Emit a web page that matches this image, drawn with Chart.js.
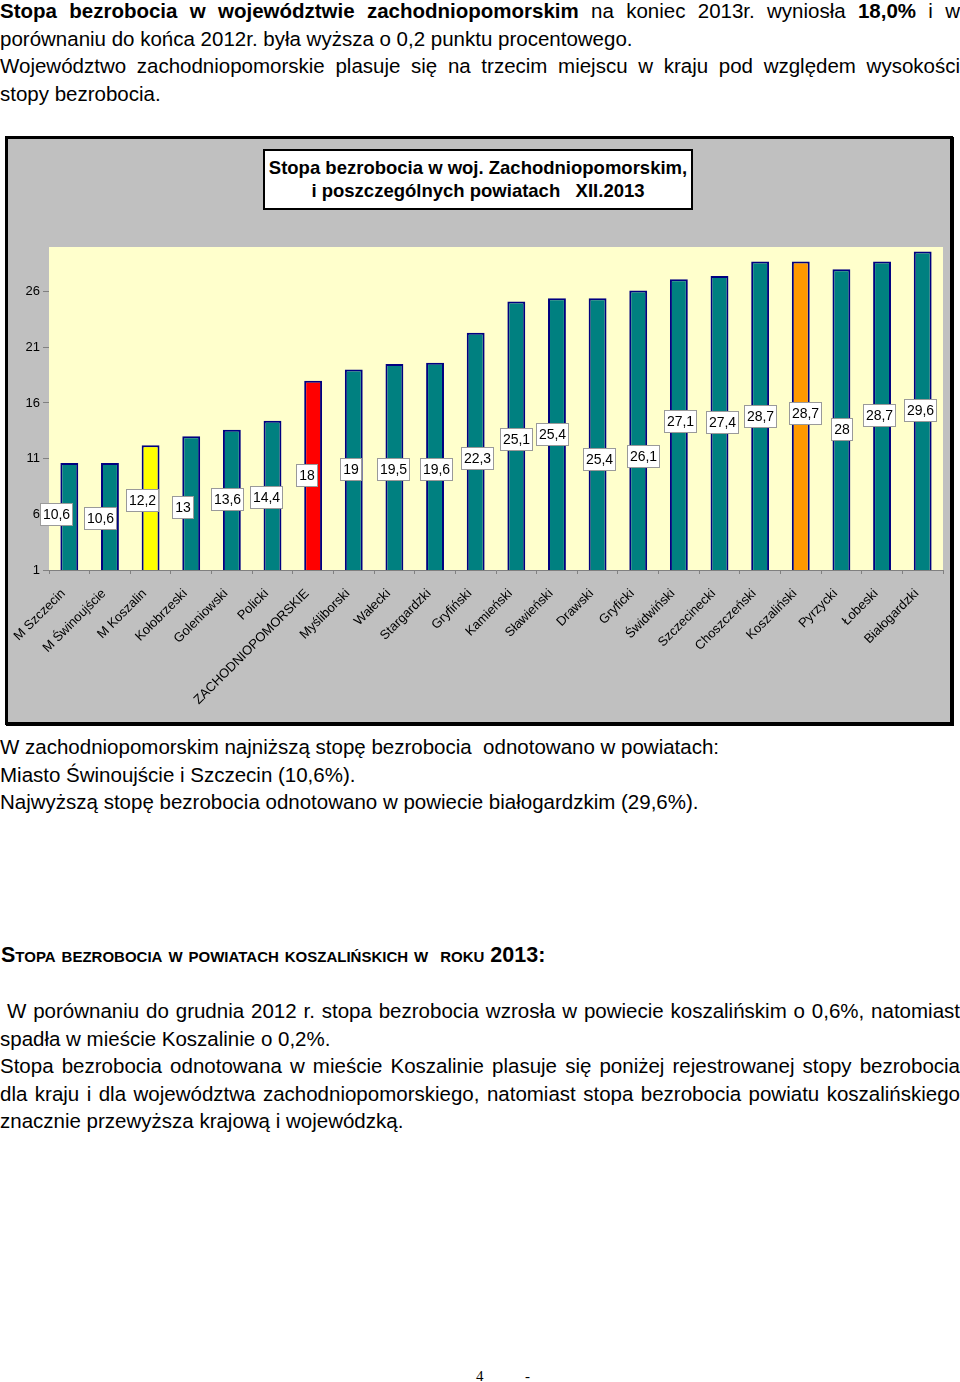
<!DOCTYPE html>
<html lang="pl">
<head>
<meta charset="utf-8">
<title>Stopa bezrobocia XII.2013</title>
<script src="https://cdn.jsdelivr.net/npm/chart.js@4.4.0/dist/chart.umd.min.js"></script>
<style>
  body { margin: 0; width: 960px; height: 1382px; position: relative; background: #fff; color: #000;
         font-family: 'Liberation Sans', Arial, sans-serif; overflow: hidden; }
  .txt { position: absolute; left: 0; width: 960px; font-size: 20.5px; line-height: 27.5px; }
  .txt div { white-space: nowrap; }
  .txt .j { text-align: justify; text-align-last: justify; }
  #frame { position: absolute; left: 5px; top: 136px; width: 942px; height: 583px; border: 3px solid #000;
           background: #c0c0c0; box-shadow: 1px 1px 0 #000; }
  #frame canvas { position: absolute; left: 0; top: 0; }
  #title { position: absolute; left: 255px; top: 10px; width: 430px; height: 61px; box-sizing: border-box;
           border: 2px solid #000; background: #fff; text-align: center; padding-top: 5px;
           font: bold 18.5px 'Liberation Sans', Arial, sans-serif; line-height: 23px; }
  #heading { position: absolute; left: 1px; top: 943px; font: bold 21.5px 'Liberation Sans', Arial, sans-serif;
             font-variant: small-caps; white-space: nowrap; }
  .foot { position: absolute; top: 1368px; font: 15px 'Liberation Serif', 'Times New Roman', serif; }
</style>
</head>
<body>

<div class="txt" style="top:-3px">
  <div class="j"><b>Stopa bezrobocia w województwie zachodniopomorskim</b> na koniec 2013r. wyniosła <b>18,0%</b> i w</div>
  <div>porównaniu do końca 2012r. była wyższa o 0,2 punktu procentowego.</div>
  <div class="j">Województwo zachodniopomorskie plasuje się na trzecim miejscu w kraju pod względem wysokości</div>
  <div>stopy bezrobocia.</div>
</div>

<div id="frame">
  <canvas id="chart" width="942" height="583"></canvas>
  <div id="title">Stopa bezrobocia w woj. Zachodniopomorskim,<br>i poszczególnych powiatach&nbsp;&nbsp; XII.2013</div>
</div>

<div class="txt" style="top:733px">
  <div>W zachodniopomorskim najniższą stopę bezrobocia&nbsp; odnotowano w powiatach:</div>
  <div>Miasto Świnoujście i Szczecin (10,6%).</div>
  <div>Najwyższą stopę bezrobocia odnotowano w powiecie białogardzkim (29,6%).</div>
</div>

<div id="heading">Stopa bezrobocia w powiatach koszalińskich w&nbsp; roku 2013:</div>

<div class="txt" style="top:997px">
  <div class="j" style="padding-left:7px">W porównaniu do grudnia 2012 r. stopa bezrobocia wzrosła w powiecie koszalińskim o 0,6%, natomiast</div>
  <div>spadła w mieście Koszalinie o 0,2%.</div>
  <div class="j">Stopa bezrobocia odnotowana w mieście Koszalinie plasuje się poniżej rejestrowanej stopy bezrobocia</div>
  <div class="j">dla kraju i dla województwa zachodniopomorskiego, natomiast stopa bezrobocia powiatu koszalińskiego</div>
  <div>znacznie przewyższa krajową i wojewódzką.</div>
</div>

<div class="foot" style="left:476px">4</div>
<div class="foot" style="left:525px">-</div>

<script>
const labels = ['M Szczecin', 'M Świnoujście', 'M Koszalin', 'Kołobrzeski', 'Goleniowski', 'Policki',
    'ZACHODNIOPOMORSKIE', 'Myśliborski', 'Wałecki', 'Stargardzki', 'Gryfiński', 'Kamieński', 'Sławieński',
    'Drawski', 'Gryficki', 'Świdwiński', 'Szczecinecki', 'Choszczeński', 'Koszaliński', 'Pyrzycki',
    'Łobeski', 'Białogardzki'];
const rates = [10.6, 10.6, 12.2, 13, 13.6, 14.4, 18, 19, 19.5, 19.6, 22.3, 25.1, 25.4,
    25.4, 26.1, 27.1, 27.4, 28.7, 28.7, 28, 28.7, 29.6];
const yTicks = [1, 6, 11, 16, 21, 26];

// value boxes were dragged around by hand in the original, small nudges from the bar middle
const boxShiftX = [-13, -10, -9, -9, -5, -7, -7, -3, -1, 1, 1, 0, -5, 1, 5, 1, 2, 0, 4, 0, -3, -3];
const boxShiftY = [-8, -4, -13, -2, -6, -4, -6, -6, -4, -3, 1, -2, -6, 19, 20, -9, -7, -5, -8, 4, -6, -6];

const fontFamily = "'Liberation Sans', Arial, sans-serif";

function barColor(name) {
    if (name === 'ZACHODNIOPOMORSKIE') return '#ff0000';
    if (name === 'M Koszalin') return '#ffff00';
    if (name === 'Koszaliński') return '#ff9900';
    return '#008080';
}

const plotBackground = {
    id: 'plotBackground',
    beforeDraw(chart) {
        let a = chart.chartArea;
        let ctx = chart.ctx;
        ctx.save();
        ctx.fillStyle = '#ffffcc';
        ctx.fillRect(a.left, a.top, a.right - a.left, a.bottom - a.top);
        ctx.restore();
    }
};

const valueBoxes = {
    id: 'valueBoxes',
    afterDatasetsDraw(chart) {
        let ctx = chart.ctx;
        let meta = chart.getDatasetMeta(0);
        ctx.save();
        ctx.font = '14px ' + fontFamily;
        ctx.textAlign = 'center';
        ctx.textBaseline = 'middle';
        meta.data.forEach(function (bar, i) {
            let text = String(rates[i]).replace('.', ',');
            let w = Math.round(ctx.measureText(text).width + 5);
            let h = 22;
            let cx = bar.x + boxShiftX[i];
            let cy = (bar.y + bar.base) / 2 + boxShiftY[i];
            let left = Math.round(cx - w / 2) + 0.5;
            let top = Math.round(cy - h / 2) + 0.5;
            ctx.fillStyle = '#ffffff';
            ctx.fillRect(left, top, w, h);
            ctx.strokeStyle = '#9a9a9a';
            ctx.lineWidth = 1;
            ctx.strokeRect(left, top, w, h);
            ctx.fillStyle = '#000';
            ctx.fillText(text, left + w / 2, top + h / 2 + 1);
        });
        ctx.restore();
    }
};

new Chart(document.getElementById('chart'), {
    type: 'bar',
    data: {
        labels: labels,
        datasets: [{
            data: rates,
            backgroundColor: labels.map(barColor),
            borderColor: '#000080',
            borderWidth: 2,
            borderSkipped: false,
            barPercentage: 0.44,
            categoryPercentage: 1
        }]
    },
    options: {
        responsive: false,
        animation: false,
        devicePixelRatio: 1,
        layout: { padding: { top: 108, right: 7, left: 0, bottom: 0 } },
        plugins: { legend: { display: false }, tooltip: { enabled: false } },
        scales: {
            x: {
                grid: { offset: true, drawOnChartArea: false, tickLength: 4, tickColor: '#808080' },
                border: { color: '#808080' },
                ticks: {
                    color: '#000', font: { family: fontFamily, size: 13 },
                    minRotation: 45, maxRotation: 45, autoSkip: false, padding: 12, labelOffset: -6
                },
                afterFit(scale) { scale.height = 152; }
            },
            y: {
                min: 1,
                max: 30,
                grid: { drawOnChartArea: false, tickLength: 6, tickColor: '#808080' },
                border: { display: false },
                ticks: { color: '#000', font: { family: fontFamily, size: 13 }, padding: 3 },
                afterBuildTicks(scale) { scale.ticks = yTicks.map(v => ({ value: v })); },
                afterFit(scale) { scale.width = 41; }
            }
        }
    },
    plugins: [plotBackground, valueBoxes]
});
</script>
</body>
</html>
